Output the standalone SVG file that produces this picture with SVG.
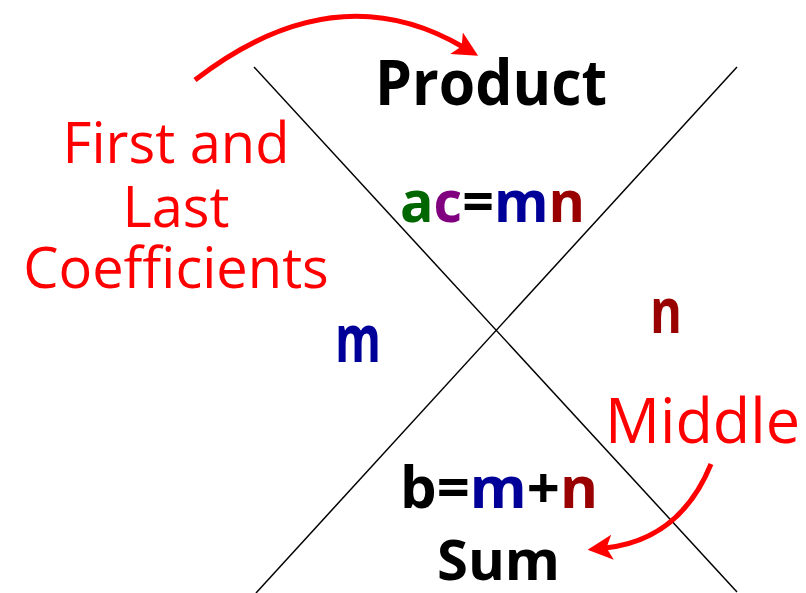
<svg xmlns="http://www.w3.org/2000/svg" width="806" height="593" viewBox="0 0 806 593">
<style>
.t{font-family:"Comic Sans MS","Open Sans","DejaVu Sans",sans-serif}
.b{font-weight:bold}
.red{fill:#ff0000}
.blk{fill:#000}
.grn{fill:#006600}
.pur{fill:#800080}
.blu{fill:#000099}
.drd{fill:#990000}
.ln{stroke:#000;stroke-width:1.5;fill:none}
.arr{stroke:#ff0000;stroke-width:5;fill:none;stroke-linecap:butt}
</style>
<defs>
<marker id="ah" markerWidth="5" markerHeight="5" refX="1.5" refY="2.5" orient="auto" markerUnits="strokeWidth">
<path d="M0,0 L5,2.5 L0,5 L1.2,2.5 Z" fill="#ff0000"/>
</marker>
</defs>
<rect width="806" height="593" fill="#fff"/>
<g id="connectors">
<line class="ln" x1="254" y1="67" x2="737" y2="592"/>
<line class="ln" x1="737" y1="67" x2="256" y2="593"/>
<path class="arr" d="M195,80 Q335,-28 463,47" marker-end="url(#ah)"/>
<path class="arr" d="M711,464 Q680,540 605,548" marker-end="url(#ah)"/>
</g>
<g id="product"><text class="t b blk" x="375" y="105" font-size="63" textLength="232" lengthAdjust="spacingAndGlyphs">Product</text></g>
<g id="acmn"><text class="t b" x="400" y="222" font-size="58" textLength="185" lengthAdjust="spacingAndGlyphs"><tspan class="grn">a</tspan><tspan class="pur">c</tspan><tspan class="blk">=</tspan><tspan class="blu">m</tspan><tspan class="drd">n</tspan></text></g>
<g id="firstlast"><text class="t red" font-size="56" text-anchor="middle"><tspan x="176" y="163">First and</tspan><tspan x="176" y="227">Last</tspan><tspan x="176" y="288">Coefficients</tspan></text></g>
<g id="m"><text class="t b blu" x="335" y="362" font-size="66" textLength="46" lengthAdjust="spacingAndGlyphs">m</text></g>
<g id="n"><text class="t b drd" x="650" y="333" font-size="62" textLength="32" lengthAdjust="spacingAndGlyphs">n</text></g>
<g id="middle"><text class="t red" x="605" y="443" font-size="62" textLength="195" lengthAdjust="spacingAndGlyphs">Middle</text></g>
<g id="bmn"><text class="t b" x="400" y="508" font-size="58" textLength="198" lengthAdjust="spacingAndGlyphs"><tspan class="blk">b=</tspan><tspan class="blu">m</tspan><tspan class="blk">+</tspan><tspan class="drd">n</tspan></text></g>
<g id="sum"><text class="t b blk" x="437" y="580" font-size="56" textLength="123" lengthAdjust="spacingAndGlyphs">Sum</text></g>
</svg>
